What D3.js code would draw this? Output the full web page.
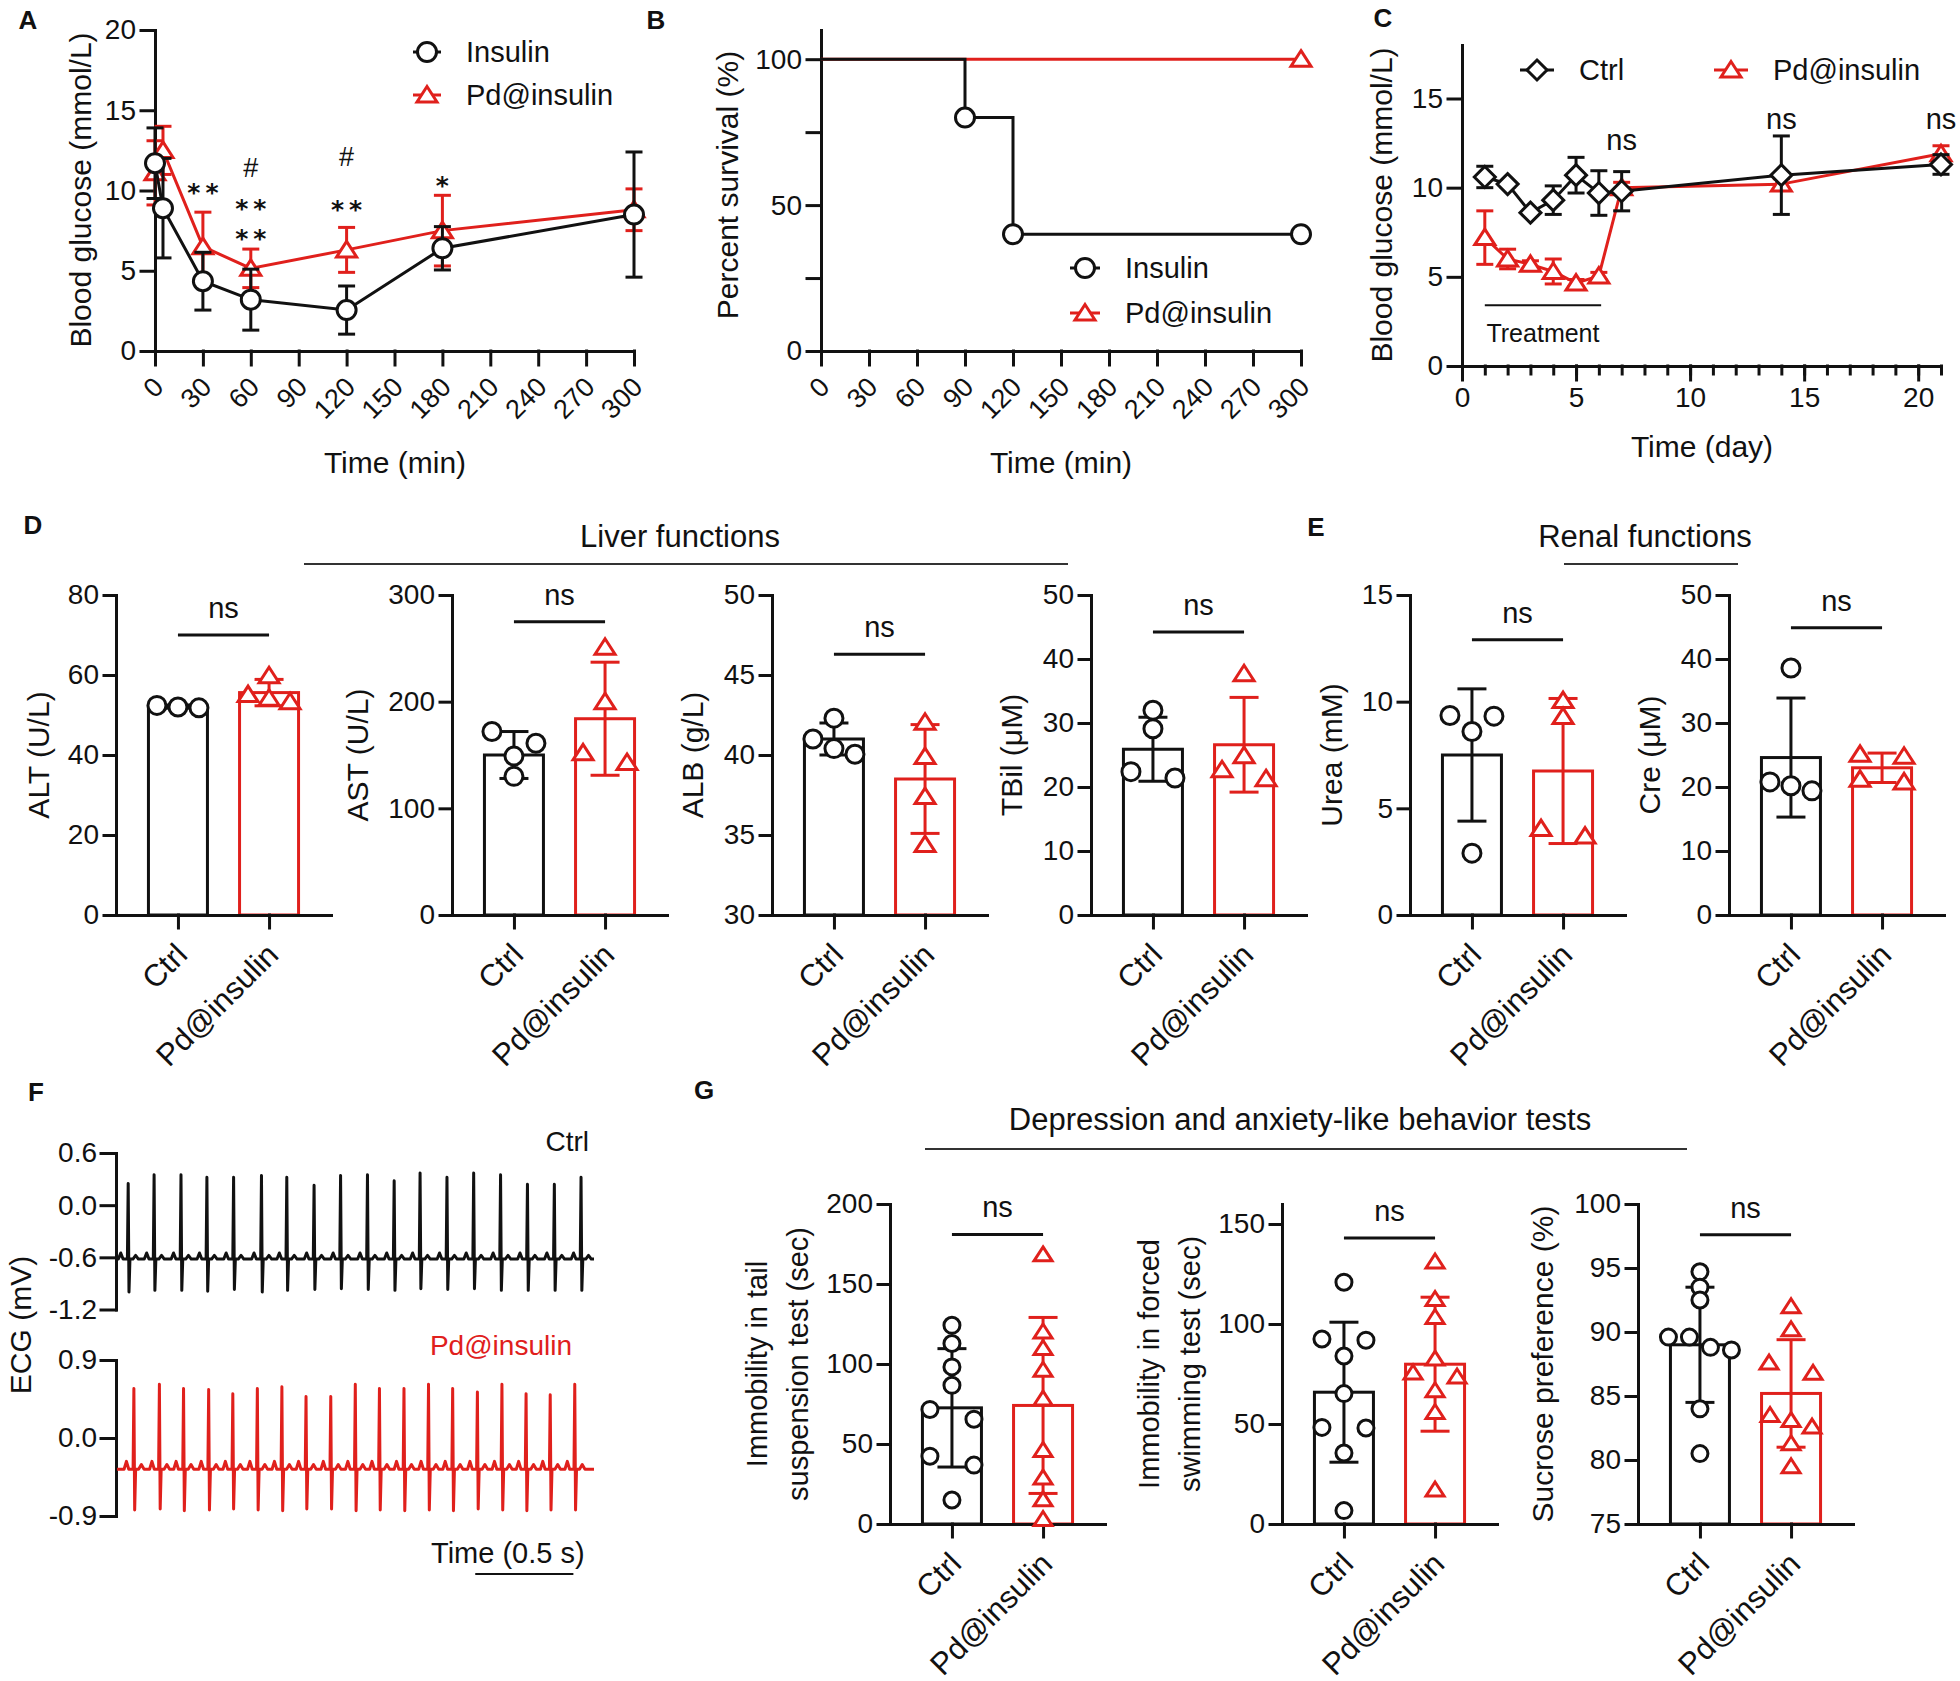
<!DOCTYPE html>
<html>
<head>
<meta charset="utf-8">
<script src="https://cdn.jsdelivr.net/npm/d3@7"></script>
<style>
  body { margin: 0; background: #fff; }
  svg text { font-family: "Liberation Sans", Arial, Helvetica, sans-serif; }
</style>
</head>
<body>
<svg id="fig" width="1960" height="1681"></svg>
<script>
// ---------------- data ----------------

// A: blood glucose after one injection
const timeA = [0, 5, 30, 60, 120, 180, 300];
const insulinMean = [11.7, 8.9, 4.35, 3.2, 2.55, 6.4, 8.5];
const insulinSd = [2.2, 3.1, 1.8, 1.9, 1.5, 1.35, 3.9];
const pdMeanA = [11.1, 12.5, 6.5, 5.15, 6.3, 7.5, 8.8];
const pdSdA = [2.0, 1.5, 2.15, 1.2, 1.4, 2.2, 1.3];
const sigTimes = [30, 60, 60, 60, 120, 120, 180];
const sigMarks = ["**", "#", "**", "**", "#", "**", "*"];
const sigLevels = [10.2, 11.4, 9.2, 7.35, 12.1, 9.15, 10.65];
const minTicks = [0, 30, 60, 90, 120, 150, 180, 210, 240, 270, 300];
const gluTicks = [0, 5, 10, 15, 20];

// B: survival
const survTimes = [0, 90, 120, 300];
const insulinSurv = [100, 80, 40, 40];
const pdSurv = [100, 100, 100, 100];
const survTicks = [0, 25, 50, 75, 100];

// C: glucose over days
const days = [1, 2, 3, 4, 5, 6, 7, 14, 21];
const ctrlMeanC = [10.6, 10.2, 8.6, 9.3, 10.7, 9.7, 9.8, 10.7, 11.3];
const ctrlSdC = [0.6, 0.15, 0.15, 0.8, 1.0, 1.25, 1.1, 2.2, 0.55];
const pdMeanC = [7.2, 6.0, 5.7, 5.3, 4.65, 5.05, 10.0, 10.2, 11.9];
const pdSdC = [1.5, 0.55, 0.2, 0.7, 0.2, 0.2, 0.3, 0.3, 0.45];
const nsDays = [7, 14, 21];
const nsLevels = [12.5, 13.7, 13.7];
const treatDays = [1, 6.1];
const dayTicks = [0, 5, 10, 15, 20];
const gluTicksC = [0, 5, 10, 15];

// D-G: bar charts (Ctrl vs Pd@insulin)
const groups = ["Ctrl", "Pd@insulin"];
const altCtrl = [52.0, 52.4, 51.8], altPd = [59.8, 55.1, 54.2, 53.3];
const altMean = [52.1, 55.6], altSd = [0.4, 3.3];
const astCtrl = [172, 161, 149, 130], astPd = [251, 200, 152, 143];
const astMean = [150, 184], astSd = [22, 53];
const albCtrl = [42.3, 41.0, 40.05, 40.4], albPd = [42.05, 39.9, 37.4, 34.4];
const albMean = [41.0, 38.5], albSd = [1.0, 3.4];
const tbilCtrl = [32.0, 29.1, 21.4, 22.4], tbilPd = [37.7, 24.9, 21.3, 22.7];
const tbilMean = [25.9, 26.6], tbilSd = [5.0, 7.4];
const ureaCtrl = [9.32, 9.35, 8.6, 2.9], ureaPd = [10.05, 9.3, 3.7, 4.05];
const ureaMean = [7.5, 6.75], ureaSd = [3.1, 3.4];
const creCtrl = [38.6, 20.8, 19.4, 20.2], crePd = [24.8, 25.1, 20.8, 21.2];
const creMean = [24.6, 23.0], creSd = [9.3, 2.3];
const tailCtrl = [124.2, 112.8, 98.2, 86.7, 71.6, 65.5, 42.4, 36.8, 15.0];
const tailPd = [168.4, 120.2, 109.9, 96.3, 78.3, 46.2, 28.9, 15.3, 3.0];
const tailMean = [72.6, 74.1], tailSd = [37, 55];
const swimCtrl = [120.9, 92.5, 91.9, 84.0, 65.2, 48.0, 48.3, 35.5, 6.7];
const swimPd = [131.2, 112.4, 103.4, 82.6, 73.7, 75.7, 66.8, 55.9, 17.2];
const swimMean = [65.9, 79.9], swimSd = [35, 33.5];
const sucCtrl = [94.7, 93.5, 92.5, 89.6, 89.6, 88.6, 88.8, 84.0, 80.5];
const sucPd = [92.0, 90.2, 87.6, 86.8, 83.1, 83.5, 82.6, 81.3, 79.5];
const sucMean = [89.0, 85.2], sucSd = [4.5, 4.2];

// F: ECG, beat times (s), R peaks and S troughs (mV)
const ctrlBeats = [0.057, 0.189, 0.326, 0.458, 0.594, 0.736, 0.865, 1.004, 1.139, 1.276, 1.412, 1.544, 1.681, 1.817, 1.954, 2.091, 2.228, 2.364];
const ctrlPeaks = [0.25, 0.35, 0.35, 0.32, 0.32, 0.34, 0.32, 0.23, 0.34, 0.35, 0.28, 0.37, 0.32, 0.37, 0.35, 0.24, 0.24, 0.32];
const ctrlTroughs = [-1.0, -0.98, -0.98, -0.99, -0.97, -1.0, -0.98, -0.97, -0.96, -0.97, -0.98, -0.96, -0.97, -0.96, -0.98, -0.98, -0.98, -0.98];
const pdBeats = [0.086, 0.216, 0.339, 0.467, 0.590, 0.715, 0.840, 0.963, 1.089, 1.214, 1.337, 1.462, 1.587, 1.710, 1.836, 1.961, 2.084, 2.207, 2.332];
const pdPeaks = [0.57, 0.62, 0.57, 0.56, 0.51, 0.57, 0.59, 0.48, 0.48, 0.62, 0.57, 0.57, 0.62, 0.57, 0.53, 0.62, 0.51, 0.50, 0.62];
const pdTroughs = [-0.83, -0.82, -0.84, -0.83, -0.82, -0.83, -0.84, -0.82, -0.82, -0.84, -0.83, -0.84, -0.83, -0.84, -0.82, -0.83, -0.84, -0.83, -0.83];
const ecgBase = [-0.62, -0.36];
const ecgSmallWave = [0.07, 0.09];
const ecgTicksTop = [0.6, 0.0, -0.6, -1.2];
const ecgTicksBot = [0.9, 0.0, -0.9];

// ---------------- drawing ----------------
const INK = "#111";
const RED = "#e0201c";
const svg = d3.select("#fig");
svg.append("rect").attr("width", 1960).attr("height", 1681).attr("fill", "#fff");

function txt(g, x, y, s, o = {}) {
  return g.append("text")
    .attr("x", x).attr("y", y).text(s)
    .attr("font-size", o.size || 30)
    .attr("fill", o.color || INK)
    .attr("text-anchor", o.anchor || "middle")
    .attr("font-weight", o.weight || "normal");
}

function vtxt(g, x, yc, s, size) {
  g.append("text")
    .attr("transform", `translate(${x},${yc}) rotate(-90)`)
    .attr("text-anchor", "middle")
    .attr("dy", "0.35em")
    .attr("font-size", size || 30)
    .attr("fill", INK)
    .text(s);
}

function styleAxis(sel) {
  sel.attr("font-size", 28);
  sel.selectAll("path, line")
    .attr("stroke", INK)
    .attr("stroke-width", 3)
    .attr("stroke-linecap", "square");
  sel.selectAll("text").attr("fill", INK);
}

function markerPath(type, s) {
  if (type === "circle")
    return `M${-s},0a${s},${s} 0 1,0 ${2 * s},0a${s},${s} 0 1,0 ${-2 * s},0`;
  if (type === "triangle")
    return `M0,${-0.85 * s}L${s},${0.7 * s}L${-s},${0.7 * s}Z`;
  return `M0,${-s}L${s},0L0,${s}L${-s},0Z`; // diamond
}

function marker(g, x, y, type, s, color) {
  g.append("path")
    .attr("transform", `translate(${x},${y})`)
    .attr("d", markerPath(type, s))
    .attr("fill", "#fff")
    .attr("stroke", color)
    .attr("stroke-width", 3);
}

function errBar(g, cx, y, m, sd, half, color) {
  const y1 = y(m + sd), y2 = y(m - sd);
  g.append("line").attr("x1", cx).attr("x2", cx).attr("y1", y1).attr("y2", y2)
    .attr("stroke", color).attr("stroke-width", 3);
  [y1, y2].forEach(yy => {
    g.append("line").attr("x1", cx - half).attr("x2", cx + half).attr("y1", yy).attr("y2", yy)
      .attr("stroke", color).attr("stroke-width", 3);
  });
}

function panelLabel(x, y, s) {
  txt(svg, x, y + 9, s, { size: 26, weight: "bold" });
}

// line + error + marker series
function series(g, x, y, xs, means, sds, type, size, color) {
  const pts = xs.map((t, i) => ({ t, m: means[i], sd: sds[i] }));
  g.append("path")
    .datum(pts)
    .attr("d", d3.line().x(d => x(d.t)).y(d => y(d.m)))
    .attr("fill", "none").attr("stroke", color).attr("stroke-width", 3);
  pts.forEach(d => errBar(g, x(d.t), y, d.m, d.sd, 8.5, color));
  pts.forEach(d => marker(g, x(d.t), y(d.m), type, size, color));
}

function legendItem(g, cx, cy, half, type, size, color, label) {
  g.append("line").attr("x1", cx - half).attr("x2", cx + half).attr("y1", cy).attr("y2", cy)
    .attr("stroke", color).attr("stroke-width", 3);
  marker(g, cx, cy, type, size, color);
  txt(g, cx + half + 25, cy + 10, label, { anchor: "start", size: 29 });
}

function rotatedTicks(sel, dx, dy, size) {
  sel.selectAll(".tick text")
    .attr("y", 0).attr("dy", "0.35em")
    .attr("text-anchor", "end")
    .attr("font-size", size)
    .attr("transform", `translate(${dx},${dy}) rotate(-45)`);
}

// ---------- Panel A ----------
(function () {
  const g = svg.append("g");
  const x = d3.scaleLinear().domain([0, 300]).range([155, 634]);
  const y = d3.scaleLinear().domain([0, 20]).range([351, 30]);

  g.append("g").attr("transform", `translate(0,${y(0)})`)
    .call(d3.axisBottom(x).tickValues(minTicks).tickSize(14).tickSizeOuter(0))
    .call(styleAxis)
    .call(s => rotatedTicks(s, 3, 31, 27));
  g.append("g").attr("transform", `translate(${x(0)},0)`)
    .call(d3.axisLeft(y).tickValues(gluTicks).tickSize(14).tickSizeOuter(0).tickPadding(5))
    .call(styleAxis);

  series(g, x, y, timeA, pdMeanA, pdSdA, "triangle", 10, RED);
  series(g, x, y, timeA, insulinMean, insulinSd, "circle", 9.5, INK);

  // significance marks
  sigTimes.forEach((t, i) => {
    const s = sigMarks[i];
    if (s === "#") {
      txt(g, x(t), y(sigLevels[i]) + 9, s, { size: 27 });
    } else {
      txt(g, x(t), y(sigLevels[i]) + 14, s, { size: 25, weight: "bold" })
        .style("font-family", "DejaVu Sans")
        .attr("letter-spacing", 5).attr("dx", 2.5);
    }
  });

  vtxt(g, 80, 190, "Blood glucose (mmol/L)");
  txt(g, 395, 473, "Time (min)");
  legendItem(g, 427, 52, 14, "circle", 9.5, INK, "Insulin");
  legendItem(g, 427, 95, 14, "triangle", 10, RED, "Pd@insulin");
  panelLabel(28, 20, "A");
})();

// ---------- Panel B ----------
(function () {
  const g = svg.append("g");
  const x = d3.scaleLinear().domain([0, 300]).range([821, 1301]);
  const y = d3.scaleLinear().domain([0, 110]).range([351, 30]);

  g.append("g").attr("transform", `translate(0,${y(0)})`)
    .call(d3.axisBottom(x).tickValues(minTicks).tickSize(14).tickSizeOuter(0))
    .call(styleAxis)
    .call(s => rotatedTicks(s, 3, 31, 27));
  g.append("g").attr("transform", `translate(${x(0)},0)`)
    .call(d3.axisLeft(y).tickValues(survTicks).tickSize(14).tickSizeOuter(0).tickPadding(5)
      .tickFormat(d => (d % 50 === 0 ? d : "")))
    .call(styleAxis);

  const step = d3.line().curve(d3.curveStepAfter).x(d => x(d.t)).y(d => y(d.v));
  [[pdSurv, RED, "triangle", 10], [insulinSurv, INK, "circle", 9.5]].forEach(([vals, col, type, sz]) => {
    const pts = survTimes.map((t, i) => ({ t, v: vals[i] }));
    g.append("path").datum(pts).attr("d", step)
      .attr("fill", "none").attr("stroke", col).attr("stroke-width", 3);
    pts.forEach((d, i) => {
      const last = i === pts.length - 1;
      if (i > 0 && (last || d.v !== pts[i - 1].v)) marker(g, x(d.t), y(d.v), type, sz, col);
    });
  });

  vtxt(g, 727, 185, "Percent survival (%)");
  txt(g, 1061, 473, "Time (min)");
  legendItem(g, 1085, 268, 15, "circle", 9.5, INK, "Insulin");
  legendItem(g, 1085, 313, 15, "triangle", 10, RED, "Pd@insulin");
  panelLabel(656, 20, "B");
})();

// ---------- Panel C ----------
(function () {
  const g = svg.append("g");
  const x = d3.scaleLinear().domain([0, 21]).range([1462, 1941]);
  const y = d3.scaleLinear().domain([0, 18]).range([366, 45]);

  g.append("g").attr("transform", `translate(0,${y(0)})`)
    .call(d3.axisBottom(x).tickValues(d3.range(0, 22)).tickSize(8).tickSizeOuter(0).tickFormat(""))
    .call(styleAxis);
  g.append("g").attr("transform", `translate(0,${y(0)})`)
    .call(d3.axisBottom(x).tickValues(dayTicks).tickSize(14).tickSizeOuter(0).tickPadding(7))
    .call(styleAxis);
  g.append("g").attr("transform", `translate(${x(0)},0)`)
    .call(d3.axisLeft(y).tickValues(gluTicksC).tickSize(14).tickSizeOuter(0).tickPadding(5))
    .call(styleAxis);

  series(g, x, y, days, pdMeanC, pdSdC, "triangle", 10, RED);
  series(g, x, y, days, ctrlMeanC, ctrlSdC, "diamond", 10.5, INK);

  nsDays.forEach((d, i) => txt(g, x(d), y(nsLevels[i]) + 7, "ns", { size: 29 }));

  // treatment bar
  g.append("line")
    .attr("x1", x(treatDays[0])).attr("x2", x(treatDays[1]))
    .attr("y1", y(3.4)).attr("y2", y(3.4))
    .attr("stroke", INK).attr("stroke-width", 2);
  txt(g, (x(treatDays[0]) + x(treatDays[1])) / 2, y(3.4) + 37, "Treatment", { size: 25 });

  vtxt(g, 1381, 205, "Blood glucose (mmol/L)");
  txt(g, 1702, 457, "Time (day)");
  legendItem(g, 1537, 70, 17, "diamond", 10, INK, "Ctrl");
  legendItem(g, 1731, 70, 17, "triangle", 10, RED, "Pd@insulin");
  panelLabel(1383, 18, "C");
})();

// ---------- bar chart helper (D, E, G) ----------
// points that nearly collide are spread sideways, like a scatter-dot plot
function swarm(values, y, r) {
  const idx = values.map((v, i) => i).sort((a, b) => values[b] - values[a]);
  const off = values.map(() => 0);
  let cluster = [idx[0]];
  const flush = () => {
    const step = cluster.length === 2 ? 44 : 21;
    cluster.forEach((k, j) => (off[k] = (j - (cluster.length - 1) / 2) * step));
  };
  for (let j = 1; j < idx.length; j++) {
    const prev = cluster[cluster.length - 1];
    if (Math.abs(y(values[idx[j]]) - y(values[prev])) < 1.4 * r) cluster.push(idx[j]);
    else { flush(); cluster = [idx[j]]; }
  }
  flush();
  return off;
}

function barPanel(o) {
  const g = svg.append("g");
  const x = d3.scalePoint().domain(groups).range([o.left, o.left + 215]).padding(0.68);
  const y = d3.scaleLinear().domain(o.domain).range([o.bottom, o.top]);
  const r = o.r || 9;

  // bars
  groups.forEach((grp, i) => {
    g.append("rect")
      .attr("x", x(grp) - 29.5).attr("width", 59)
      .attr("y", y(o.mean[i])).attr("height", y(o.domain[0]) - y(o.mean[i]))
      .attr("fill", "#fff")
      .attr("stroke", i ? RED : INK).attr("stroke-width", 3);
  });

  // axes
  g.append("g").attr("transform", `translate(0,${o.bottom})`)
    .call(d3.axisBottom(x).tickSize(13).tickSizeOuter(0))
    .call(styleAxis)
    .call(s => rotatedTicks(s, 3, 34, 31));
  g.append("g").attr("transform", `translate(${o.left},0)`)
    .call(d3.axisLeft(y).tickValues(o.ticks).tickSize(12).tickSizeOuter(0).tickPadding(5))
    .call(styleAxis);

  // error bars and points
  [o.ctrl, o.pd].forEach((vals, i) => {
    const col = i ? RED : INK;
    const cx = x(groups[i]);
    errBar(g, cx, y, o.mean[i], o.sd[i], 14.5, col);
    const off = swarm(vals, y, r);
    vals.forEach((v, k) => marker(g, cx + off[k], y(v), i ? "triangle" : "circle", i ? r + 1 : r, col));
  });

  // significance
  const ly = y(o.ns);
  g.append("line")
    .attr("x1", x(groups[0])).attr("x2", x(groups[1]))
    .attr("y1", ly).attr("y2", ly)
    .attr("stroke", INK).attr("stroke-width", 3);
  txt(g, (x(groups[0]) + x(groups[1])) / 2, ly - 17, "ns", { size: 29 });

  // y title
  const yc = (o.top + o.bottom) / 2;
  if (Array.isArray(o.label)) {
    o.label.forEach((s, i) => vtxt(g, o.lx[i], yc, s, 29));
  } else {
    vtxt(g, o.lx, yc, o.label);
  }
}

// ---------- Panel D / E ----------
const rowDE = { top: 595, bottom: 915 };
barPanel({ ...rowDE, left: 116, domain: [0, 80], ticks: [0, 20, 40, 60, 80], ctrl: altCtrl, pd: altPd, mean: altMean, sd: altSd, ns: 70, label: "ALT (U/L)", lx: 38 });
barPanel({ ...rowDE, left: 452, domain: [0, 300], ticks: [0, 100, 200, 300], ctrl: astCtrl, pd: astPd, mean: astMean, sd: astSd, ns: 275, label: "AST (U/L)", lx: 357 });
barPanel({ ...rowDE, left: 772, domain: [30, 50], ticks: [30, 35, 40, 45, 50], ctrl: albCtrl, pd: albPd, mean: albMean, sd: albSd, ns: 46.3, label: "ALB (g/L)", lx: 692 });
barPanel({ ...rowDE, left: 1091, domain: [0, 50], ticks: [0, 10, 20, 30, 40, 50], ctrl: tbilCtrl, pd: tbilPd, mean: tbilMean, sd: tbilSd, ns: 44.2, label: "TBil (μM)", lx: 1011 });
barPanel({ ...rowDE, left: 1410, domain: [0, 15], ticks: [0, 5, 10, 15], ctrl: ureaCtrl, pd: ureaPd, mean: ureaMean, sd: ureaSd, ns: 12.9, label: "Urea (mM)", lx: 1331 });
barPanel({ ...rowDE, left: 1729, domain: [0, 50], ticks: [0, 10, 20, 30, 40, 50], ctrl: creCtrl, pd: crePd, mean: creMean, sd: creSd, ns: 44.9, label: "Cre (μM)", lx: 1649 });

// section headers
function header(x1, x2, cx, s, ty, ly) {
  txt(svg, cx, ty, s, { size: 31 });
  svg.append("line").attr("x1", x1).attr("x2", x2).attr("y1", ly).attr("y2", ly)
    .attr("stroke", "#333").attr("stroke-width", 2);
}
header(304, 1068, 680, "Liver functions", 547, 564);
header(1564, 1738, 1645, "Renal functions", 547, 564);
panelLabel(33, 525, "D");
panelLabel(1316, 527, "E");

// ---------- Panel G ----------
const rowG = { top: 1204, bottom: 1524, r: 8 };
barPanel({ ...rowG, left: 890, domain: [0, 200], ticks: [0, 50, 100, 150, 200], ctrl: tailCtrl, pd: tailPd, mean: tailMean, sd: tailSd, ns: 181, label: ["Immobility in tail", "suspension test (sec)"], lx: [757, 798] });
barPanel({ ...rowG, left: 1282, domain: [0, 160], ticks: [0, 50, 100, 150], ctrl: swimCtrl, pd: swimPd, mean: swimMean, sd: swimSd, ns: 143, label: ["Immobility  in forced", "swimming test (sec)"], lx: [1149, 1190] });
barPanel({ ...rowG, left: 1638, domain: [75, 100], ticks: [75, 80, 85, 90, 95, 100], ctrl: sucCtrl, pd: sucPd, mean: sucMean, sd: sucSd, ns: 97.6, label: "Sucrose preference (%)", lx: 1542 });
header(925, 1687, 1300, "Depression and anxiety-like  behavior tests", 1130, 1149);
panelLabel(704, 1090, "G");

// ---------- Panel F: ECG ----------
(function () {
  const g = svg.append("g");
  const t = d3.scaleLinear().domain([0, 2.43]).range([117, 594]);
  const yTop = d3.scaleLinear().domain([-1.2, 0.6]).range([1309.5, 1153]);
  const yBot = d3.scaleLinear().domain([-0.9, 0.9]).range([1516, 1360]);
  const fmt = d => d.toFixed(1);

  g.append("g").attr("transform", "translate(116,0)")
    .call(d3.axisLeft(yTop).tickValues(ecgTicksTop).tickSize(15).tickSizeOuter(0).tickPadding(4).tickFormat(fmt))
    .call(styleAxis);
  g.append("g").attr("transform", "translate(116,0)")
    .call(d3.axisLeft(yBot).tickValues(ecgTicksBot).tickSize(15).tickSizeOuter(0).tickPadding(4).tickFormat(fmt))
    .call(styleAxis);

  function trace(beats, peaks, troughs, base, small) {
    const pts = [[0, base]];
    beats.forEach((b, i) => {
      pts.push(
        [b - 0.05, base], [b - 0.038, base + small], [b - 0.026, base],
        [b - 0.004, base], [b, peaks[i]], [b + 0.004, troughs[i]], [b + 0.009, base],
        [b + 0.024, base], [b + 0.038, base + small * 0.6], [b + 0.052, base]
      );
    });
    pts.push([2.43, base]);
    return pts;
  }

  const line = y => d3.line().x(d => t(d[0])).y(d => y(d[1]));
  g.append("path")
    .datum(trace(ctrlBeats, ctrlPeaks, ctrlTroughs, ecgBase[0], ecgSmallWave[0]))
    .attr("d", line(yTop))
    .attr("fill", "none").attr("stroke", INK).attr("stroke-width", 3).attr("stroke-linejoin", "round");
  g.append("path")
    .datum(trace(pdBeats, pdPeaks, pdTroughs, ecgBase[1], ecgSmallWave[1]))
    .attr("d", line(yBot))
    .attr("fill", "none").attr("stroke", RED).attr("stroke-width", 3).attr("stroke-linejoin", "round");

  txt(g, 589, 1151, "Ctrl", { anchor: "end", size: 28 });
  txt(g, 572, 1355, "Pd@insulin", { anchor: "end", size: 28, color: RED });
  vtxt(g, 20, 1325, "ECG (mV)");

  // 0.5 s scale bar
  txt(g, 431, 1563, "Time (0.5 s)", { anchor: "start", size: 29 });
  g.append("line")
    .attr("x1", t(1.825)).attr("x2", t(1.825 + 0.5))
    .attr("y1", 1574).attr("y2", 1574)
    .attr("stroke", INK).attr("stroke-width", 2);
  panelLabel(36, 1092, "F");
})();
</script>
</body>
</html>
